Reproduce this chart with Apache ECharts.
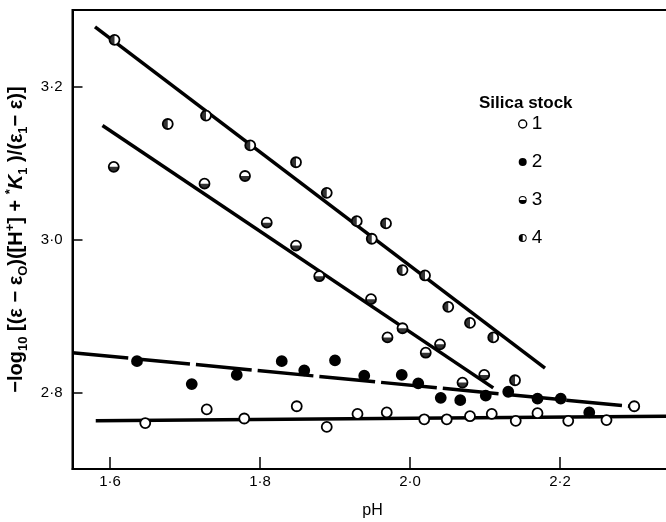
<!DOCTYPE html>
<html>
<head>
<meta charset="utf-8">
<script src="https://cdn.jsdelivr.net/npm/echarts@6/dist/echarts.min.js"></script>
<style>html,body{margin:0;padding:0;background:#fff}#c{width:666px;height:522px}</style>
</head>
<body>
<div id="c"></div>
<script>
// ---- data ----
const xTicks = [1.6, 1.8, 2.0, 2.2];
const yTicks = [2.8, 3.0, 3.2];
const seriesNames = ['1', '2', '3', '4'];

const stock1 = [[1.647,2.760],[1.729,2.778],[1.779,2.766],[1.849,2.782],[1.889,2.755],[1.930,2.772],[1.969,2.774],[2.019,2.765],[2.049,2.765],[2.080,2.769],[2.109,2.772],[2.141,2.763],[2.170,2.773],[2.211,2.763],[2.262,2.764],[2.299,2.782]];
const stock2 = [[1.636,2.841],[1.709,2.811],[1.769,2.823],[1.829,2.841],[1.859,2.829],[1.900,2.842],[1.939,2.822],[1.989,2.823],[2.011,2.812],[2.041,2.793],[2.067,2.790],[2.101,2.796],[2.131,2.801],[2.170,2.792],[2.201,2.792],[2.239,2.774]];
const stock3 = [[1.605,3.095],[1.726,3.073],[1.780,3.083],[1.809,3.022],[1.848,2.992],[1.879,2.952],[1.948,2.922],[1.970,2.872],[1.990,2.884],[2.021,2.852],[2.040,2.863],[2.070,2.813],[2.099,2.823]];
const stock4 = [[1.606,3.261],[1.677,3.151],[1.728,3.162],[1.787,3.123],[1.848,3.101],[1.889,3.061],[1.929,3.024],[1.949,3.001],[1.968,3.021],[1.990,2.960],[2.020,2.953],[2.051,2.912],[2.080,2.891],[2.111,2.872],[2.140,2.816]];

const fit1 = [[1.581,2.763],[2.35,2.769]];
const fit2 = [[1.55,2.852],[2.293,2.782]];
const fit3 = [[1.590,3.149],[2.111,2.806]];
const fit4 = [[1.580,3.278],[2.180,2.832]];

const legendTitle = 'Silica stock';
const xTitle = 'pH';

// ---- styling ----
const FONT = 'Liberation Sans';
const MS = 10;
const ringBottom = 'path://M0,10A10,10 0 1 1 20,10A10,10 0 1 1 0,10ZM2.5,10A7.5,7.5 0 1 0 17.5,10A7.5,7.5 0 1 0 2.5,10ZM2.5,10L17.5,10A7.5,7.5 0 0 1 2.5,10Z';
const ringLeft = 'path://M0,10A10,10 0 1 1 20,10A10,10 0 1 1 0,10ZM2.5,10A7.5,7.5 0 1 0 17.5,10A7.5,7.5 0 1 0 2.5,10ZM10,2.5L10,17.5A7.5,7.5 0 0 1 10,2.5Z';
const halfBottom = 'path://M0,0L20,0A10,10 0 0 1 0,0Z';
const halfLeft = 'path://M10,0L10,20A10,10 0 0 1 10,0Z';

const fmt = v => (Math.round(v * 10) / 10).toFixed(1).replace('.', '·');

function fitLine(data, dash) {
  return {
    type: 'line', data: data, symbol: 'none', silent: true, z: 1,
    lineStyle: { color: '#000', width: 3.5, type: dash || 'solid', cap: 'butt' },
    legendHoverLink: false
  };
}
function points(name, data, fill) {
  return {
    type: 'scatter', name: name, data: data, symbol: 'circle', symbolSize: MS, z: 3,
    itemStyle: { color: fill, borderColor: '#000', borderWidth: 1.8, opacity: 1 }
  };
}
function overlay(data, sym, size, offset) {
  return {
    type: 'scatter', name: 'ov', data: data, symbol: sym, symbolSize: size, symbolOffset: offset, z: 4,
    itemStyle: { color: '#000', borderWidth: 0 }, silent: true
  };
}

const yName = '{a|−log}{sub|10}{a| [(ε − ε}{sub|O}{a|)([H}{sup|+}{a|] + }{sup|*}{it|K}{sub|1}{a| )/(ε}{sub|1}{a|− ε)]}';
const nameBase = { fontFamily: FONT, fontWeight: 'bold', color: '#000', lineHeight: 26 };

const chart = echarts.init(document.getElementById('c'), null, { renderer: 'canvas' });
chart.setOption({
  animation: false,
  backgroundColor: '#fff',
  textStyle: { fontFamily: FONT },
  grid: { left: 72.5, top: 10, width: 600, height: 459, containLabel: false, outerBoundsMode: 'none', show: true, borderColor: '#000', borderWidth: 2, backgroundColor: 'transparent' },
  title: {
    text: legendTitle, left: 474, top: 90,
    textStyle: { fontFamily: FONT, fontSize: 17, fontWeight: 'bold', color: '#000' }
  },
  legend: {
    orient: 'vertical', left: 518, top: 114, padding: 0, itemGap: 18,
    itemWidth: 8, itemHeight: 8,
    textStyle: { fontFamily: FONT, fontSize: 19, lineHeight: 20, color: '#000' },
    data: [
      { name: '1', icon: 'circle', itemStyle: { color: '#fff', borderColor: '#000', borderWidth: 1.4 } },
      { name: '2', icon: 'circle', itemStyle: { color: '#000', borderWidth: 0 } },
      { name: '3', icon: ringBottom, itemStyle: { color: '#000', borderWidth: 0 } },
      { name: '4', icon: ringLeft, itemStyle: { color: '#000', borderWidth: 0 } }
    ],
    selectedMode: false
  },
  xAxis: {
    type: 'value', min: 1.55, max: 2.35,
    name: xTitle, nameLocation: 'middle', nameGap: 34,
    nameTextStyle: { fontFamily: FONT, fontSize: 16, color: '#000' },
    axisLine: { show: true, onZero: false, lineStyle: { color: '#000', width: 2 } },
    axisTick: { show: true, inside: true, length: 12, customValues: xTicks, lineStyle: { color: '#000', width: 1.5 } },
    axisLabel: { customValues: xTicks, formatter: fmt, margin: 5, fontFamily: FONT, fontSize: 15, color: '#000' },
    splitLine: { show: false }
  },
  yAxis: {
    type: 'value', min: 2.7, max: 3.3,
    name: yName, nameLocation: 'middle', nameGap: 40, nameRotate: 90,
    nameTextStyle: {
      fontFamily: FONT, fontSize: 20, fontWeight: 'bold', color: '#000',
      rich: {
        a: Object.assign({ fontSize: 20, verticalAlign: 'middle' }, nameBase),
        it: Object.assign({ fontSize: 20, verticalAlign: 'middle', fontStyle: 'italic' }, nameBase),
        sub: Object.assign({ fontSize: 13, verticalAlign: 'bottom' }, nameBase, { lineHeight: 22 }),
        sup: Object.assign({ fontSize: 13, verticalAlign: 'top' }, nameBase, { lineHeight: 22 })
      }
    },
    axisLine: { show: true, onZero: false, lineStyle: { color: '#000', width: 2 } },
    axisTick: { show: true, inside: true, length: 10, customValues: yTicks, lineStyle: { color: '#000', width: 1.5 } },
    axisLabel: { customValues: yTicks, formatter: fmt, margin: 10, fontFamily: FONT, fontSize: 15, color: '#000' },
    splitLine: { show: false }
  },
  series: [
    fitLine(fit1),
    fitLine(fit2, [56, 6]),
    fitLine(fit3),
    fitLine(fit4),
    points('1', stock1, '#fff'),
    points('2', stock2, '#000'),
    points('3', stock3, '#fff'),
    points('4', stock4, '#fff'),
    overlay(stock3, halfBottom, [MS, MS / 2], [0, MS / 4]),
    overlay(stock4, halfLeft, [MS / 2, MS], [-MS / 4, 0])
  ]
});
</script>
</body>
</html>
